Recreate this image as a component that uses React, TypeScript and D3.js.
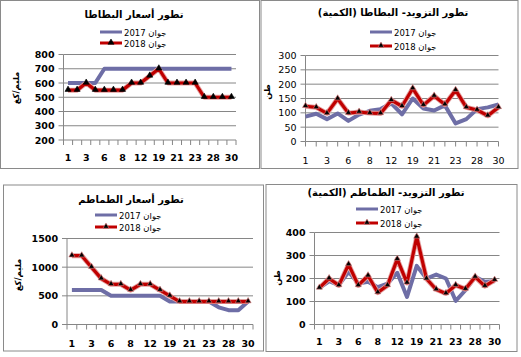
import React from "react";
import * as d3 from "d3";

const categories = ["1","2","3","5","6","7","8","10","12","15","19","20","21","22","23","26","28","29","30"];
const legend2017 = "2017 جوان";
const legend2018 = "2018 جوان";

const potatoPrice2017 = [600,600,600,600,700,700,700,700,700,700,700,700,700,700,700,700,700,700,700];
const potatoPrice2018 = [550,550,600,550,550,550,550,600,600,650,700,600,600,600,600,500,500,500,500];
const potatoPriceTicks = [200,300,400,500,600,700,800];

const potatoQty2017 = [87,97,78,98,72,94,107,113,133,95,150,115,108,126,63,78,113,119,129];
const potatoQty2018 = [123,119,98,149,99,103,99,98,144,123,185,127,159,129,179,119,110,90,119];
const potatoQtyTicks = [0,50,100,150,200,250,300];

const tomatoPrice2017 = [600,600,600,600,500,500,500,500,500,500,400,400,400,400,400,300,250,250,400];
const tomatoPrice2018 = [1200,1200,1000,800,700,700,600,700,700,600,500,400,400,400,400,400,400,400,400];
const tomatoPriceTicks = [0,500,1000,1500];

const tomatoQty2017 = [159,188,171,229,178,186,162,178,225,120,255,200,217,200,103,149,207,186,188];
const tomatoQty2018 = [159,200,170,261,170,212,139,170,284,181,381,199,152,135,171,154,207,167,193];
const tomatoQtyTicks = [0,100,200,300,400];

const BLUE = "#6E6EA6";
const RED = "#C00000";
const GRID = "#868686";
const FONT = "'DejaVu Sans', sans-serif";

type PanelProps = {
  box: [number, number, number, number];
  plot: [number, number, number, number]; // left, top, right, bottom
  ticks: number[];
  s2017: number[];
  s2018: number[];
  pad: number;
  title: string;
  titlePos: [number, number];
  yTitle: string;
  yTitlePos: [number, number];
  legendPos: [number, number, number];
  boldLabels: boolean;
  xLabelY: number;
  markerStroke: string;
};

function Panel(p: PanelProps) {
  const [l, t, r, b] = p.plot;
  const x = d3.scalePoint<string>().domain(categories).range([l, r]).padding(p.pad);
  const y = d3.scaleLinear().domain([p.ticks[0], p.ticks[p.ticks.length - 1]]).range([b, t]);
  const line = d3.line<number>().x((_, i) => x(categories[i])!).y((v) => y(v));
  const n = categories.length;
  const tickXs = p.pad > 0
    ? d3.range(n + 1).map((i) => l + (i * (r - l)) / n)
    : categories.map((c) => x(c)!);
  const tri = d3.symbol().type(d3.symbolTriangle).size(16)();
  const fw = p.boldLabels ? "bold" : "normal";
  const [lx, ly1, ly2] = p.legendPos;
  return (
    <g>
      <rect x={p.box[0]} y={p.box[1]} width={p.box[2]} height={p.box[3]} fill="#fff" stroke="#8a8a8a" strokeWidth={1} />
      <text x={p.titlePos[0]} y={p.titlePos[1]} textAnchor="middle" fontFamily={FONT} fontWeight="bold" fontSize={10} fill="#000">{p.title}</text>
      {/* legend */}
      <line x1={lx} x2={lx + 22} y1={ly1} y2={ly1} stroke={BLUE} strokeWidth={3} />
      <text x={lx + 24} y={ly1 + 3.5} fontFamily={FONT} fontSize={8.5} fill="#000">{legend2017}</text>
      <line x1={lx} x2={lx + 22} y1={ly2} y2={ly2} stroke={RED} strokeWidth={3} />
      <path d={tri!} transform={`translate(${lx + 11},${ly2 - 0.5})`} fill="#000" stroke={p.markerStroke} strokeWidth={0.6} />
      <text x={lx + 24} y={ly2 + 3.5} fontFamily={FONT} fontSize={8.5} fill="#000">{legend2018}</text>
      {/* grid */}
      {p.ticks.map((v) => (
        <g key={v}>
          <line x1={l} x2={r} y1={y(v)} y2={y(v)} stroke={GRID} strokeWidth={1} />
          <line x1={l - 5} x2={l} y1={y(v)} y2={y(v)} stroke={GRID} strokeWidth={1} />
          <text x={l - 9} y={y(v) + 3.5} textAnchor="end" fontFamily={FONT} fontWeight={fw} fontSize={9.5} fill="#000">{v}</text>
        </g>
      ))}
      <line x1={l} x2={l} y1={t} y2={b} stroke={GRID} strokeWidth={1} />
      {tickXs.map((tx, i) => (
        <line key={i} x1={tx} x2={tx} y1={b} y2={b + 5} stroke={GRID} strokeWidth={1} />
      ))}
      {categories.map((c, i) => i % 2 === 0 ? (
        <text key={c} x={x(c)!} y={p.xLabelY} textAnchor="middle" fontFamily={FONT} fontWeight={fw} fontSize={9.5} fill="#000">{c}</text>
      ) : null)}
      <text transform={`translate(${p.yTitlePos[0]},${p.yTitlePos[1]}) rotate(-90)`} textAnchor="middle" fontFamily={FONT} fontWeight="bold" fontSize={8.5} fill="#000">{p.yTitle}</text>
      {/* series */}
      <path d={line(p.s2017)!} fill="none" stroke={BLUE} strokeWidth={4} strokeLinejoin="round" />
      <path d={line(p.s2018)!} fill="none" stroke="#E4A0A0" strokeWidth={5} strokeLinejoin="round" />
      <path d={line(p.s2018)!} fill="none" stroke={RED} strokeWidth={3.2} strokeLinejoin="round" />
      {p.s2018.map((v, i) => (
        <path key={i} d={tri!} transform={`translate(${x(categories[i])},${y(v) - 0.5})`} fill="#000" stroke={p.markerStroke} strokeWidth={0.6} />
      ))}
    </g>
  );
}

export default function App() {
  return (
    <div style={{ position: "absolute", left: 0, top: 0 }}>
      <svg width={521} height={357} style={{ display: "block" }}>
        <rect width={521} height={357} fill="#fff" />
        <Panel box={[0.5, 0.5, 259, 168]} plot={[63.5, 54.5, 236, 140]} ticks={potatoPriceTicks}
          s2017={potatoPrice2017} s2018={potatoPrice2018} pad={0.5}
          title="تطور أسعار البطاطا" titlePos={[134, 18]} yTitle="مليم/كغ" yTitlePos={[19, 88]}
          legendPos={[100, 32, 43]} boldLabels={true} xLabelY={161} markerStroke="#000" />
        <Panel box={[261, 0.5, 257, 168]} plot={[305.5, 55.5, 498.5, 141.5]} ticks={potatoQtyTicks}
          s2017={potatoQty2017} s2018={potatoQty2018} pad={0}
          title="تطور التزويد- البطاطا (الكمية)" titlePos={[393, 16]} yTitle="طن" yTitlePos={[270, 92]}
          legendPos={[370, 32, 46]} boldLabels={false} xLabelY={164} markerStroke="#E08080" />
        <Panel box={[3.5, 185, 260, 166]} plot={[67, 238.5, 253, 324.5]} ticks={tomatoPriceTicks}
          s2017={tomatoPrice2017} s2018={tomatoPrice2018} pad={0.5}
          title="تطور أسعار الطماطم" titlePos={[131, 203]} yTitle="مليم/كغ" yTitlePos={[21, 275]}
          legendPos={[95, 215, 227]} boldLabels={true} xLabelY={347} markerStroke="#E08080" />
        <Panel box={[266, 184.5, 251, 167]} plot={[314.5, 232.5, 499.5, 324.5]} ticks={tomatoQtyTicks}
          s2017={tomatoQty2017} s2018={tomatoQty2018} pad={0.5}
          title="تطور التزويد- الطماطم (الكمية)" titlePos={[386, 196]} yTitle="طن" yTitlePos={[280, 278]}
          legendPos={[356, 209, 223]} boldLabels={true} xLabelY={345} markerStroke="#E08080" />
      </svg>
    </div>
  );
}
